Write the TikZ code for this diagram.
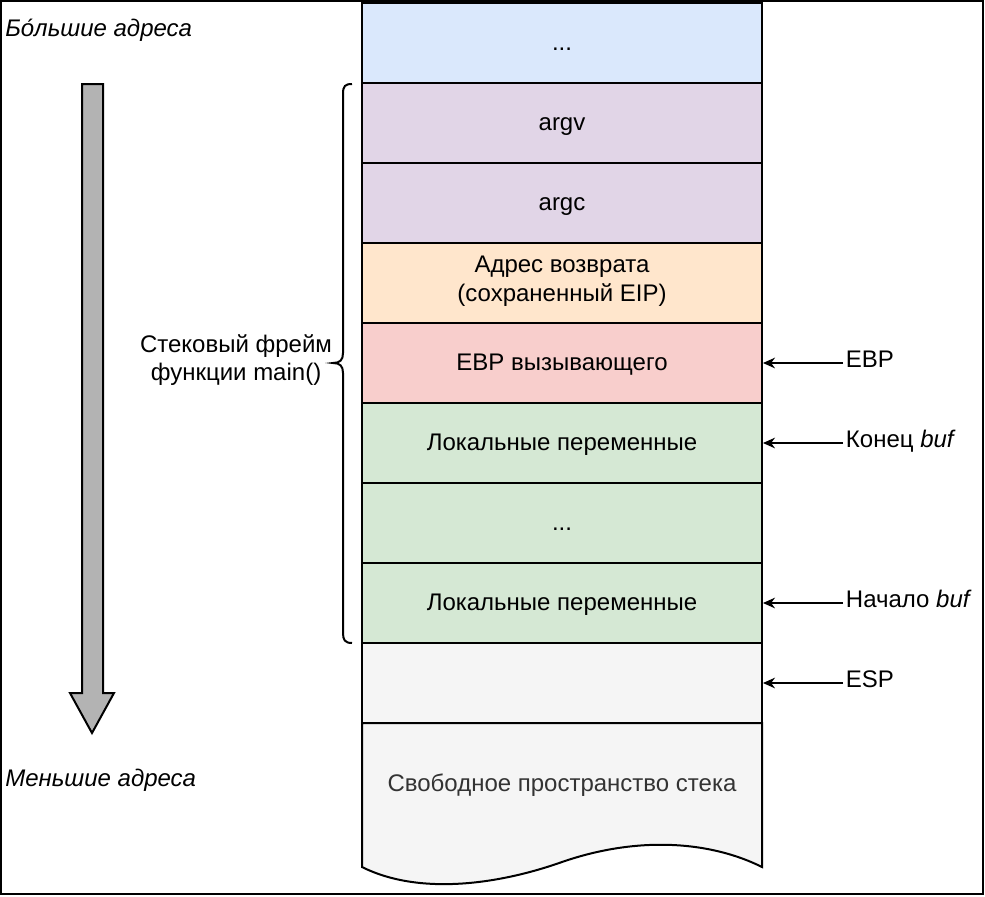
\documentclass[tikz,border=0pt]{standalone}
\usepackage{fontspec}
\setmainfont{Liberation Sans}
\usepackage{tikz}
\usetikzlibrary{arrows.meta}

\definecolor{cBlue}{HTML}{DAE8FC}
\definecolor{cViolet}{HTML}{E1D5E7}
\definecolor{cOrange}{HTML}{FFE6CC}
\definecolor{cRed}{HTML}{F8CECC}
\definecolor{cGreen}{HTML}{D5E8D4}
\definecolor{cGrey}{HTML}{F5F5F5}
\definecolor{cText}{HTML}{333333}
\definecolor{cArrow}{HTML}{B3B3B3}

\begin{document}
\begin{tikzpicture}[x=0.75pt,y=0.75pt,yscale=-1,
  every node/.style={font=\fontsize{18pt}{21.5pt}\selectfont, execute at begin node=\strut},
  cell/.style={draw, line width=1.5pt, minimum width=300pt, minimum height=60pt, inner sep=0pt, align=center,
    execute at begin node=\rule{0pt}{18pt}, execute at end node=\rule[-5pt]{0pt}{5pt}},
  ptr/.style={line width=1.2pt, -{Stealth[length=9pt,width=8pt]}}]
\useasboundingbox (0,0) rectangle (985,896);

%Frame
\draw [line width=1.5pt] (1,1) rectangle (983,894) ;

%Shape: Stack cells
\node [cell, fill=cBlue]   (dots)  at (562,43)  {...};
\node [cell, fill=cViolet] (argv)  at (562,123) {argv};
\node [cell, fill=cViolet] (argc)  at (562,203) {argc};
\node [cell, fill=cOrange] (ret)   at (562,283) {Адрес возврата\\(сохраненный EIP)};
\node [cell, fill=cRed]    (ebp)   at (562,363) {EBP вызывающего};
\node [cell, fill=cGreen]  (locA)  at (562,443) {Локальные переменные};
\node [cell, fill=cGreen]  (mid)   at (562,523) {...};
\node [cell, fill=cGreen]  (locB)  at (562,603) {Локальные переменные};
\node [cell, fill=cGrey]   (esp)   at (562,683) {};

%Shape: Free space (wavy bottom)
\draw [line width=1.5pt, fill=cGrey] (362,723) -- (762,723) -- (762,867) .. controls (712,842) and (640,835) .. (562,862) .. controls (500,884) and (420,896) .. (362,867) -- cycle ;
\node [text=cText] (free) at (562,786) {Свободное пространство стека};

%Shape: Down arrow
\draw [line width=1.5pt, fill=cArrow] (82,84) -- (103,84) -- (103,693) -- (114,693) -- (92,733) -- (70,693) -- (82,693) -- cycle ;

%Text Nodes
\node [anchor=west, inner sep=0pt] (high) at (5,31)  {\itshape Бо́льшие адреса};
\node [anchor=west, inner sep=0pt] (low)  at (5,781) {\itshape Меньшие адреса};

%Shape: Brace
\draw [line width=1.5pt] (352,84) .. controls (345,84) and (343,86) .. (343,94) -- (343,353) .. controls (343,360) and (340,363) .. (333,363) .. controls (340,363) and (343,366) .. (343,373) -- (343,633) .. controls (343,640) and (345,643) .. (352,643) ;
\node [align=center, inner sep=0pt] (frame) at (236,362) {Стековый фрейм\\\strut функции main()};

%Pointers
\node [anchor=west, inner sep=2pt] (lEBP)   at (843,362) {EBP};
\node [anchor=west, inner sep=2pt] (lEnd)   at (843,442) {Конец \textit{buf}};
\node [anchor=west, inner sep=2pt] (lStart) at (843,602) {Начало \textit{buf}};
\node [anchor=west, inner sep=2pt] (lESP)   at (843,682) {ESP};

\draw [ptr] (lEBP.west |- ebp.east)    -- (ebp.east) ;
\draw [ptr] (lEnd.west |- locA.east)   -- (locA.east) ;
\draw [ptr] (lStart.west |- locB.east) -- (locB.east) ;
\draw [ptr] (lESP.west |- esp.east)    -- (esp.east) ;

\end{tikzpicture}
\end{document}
